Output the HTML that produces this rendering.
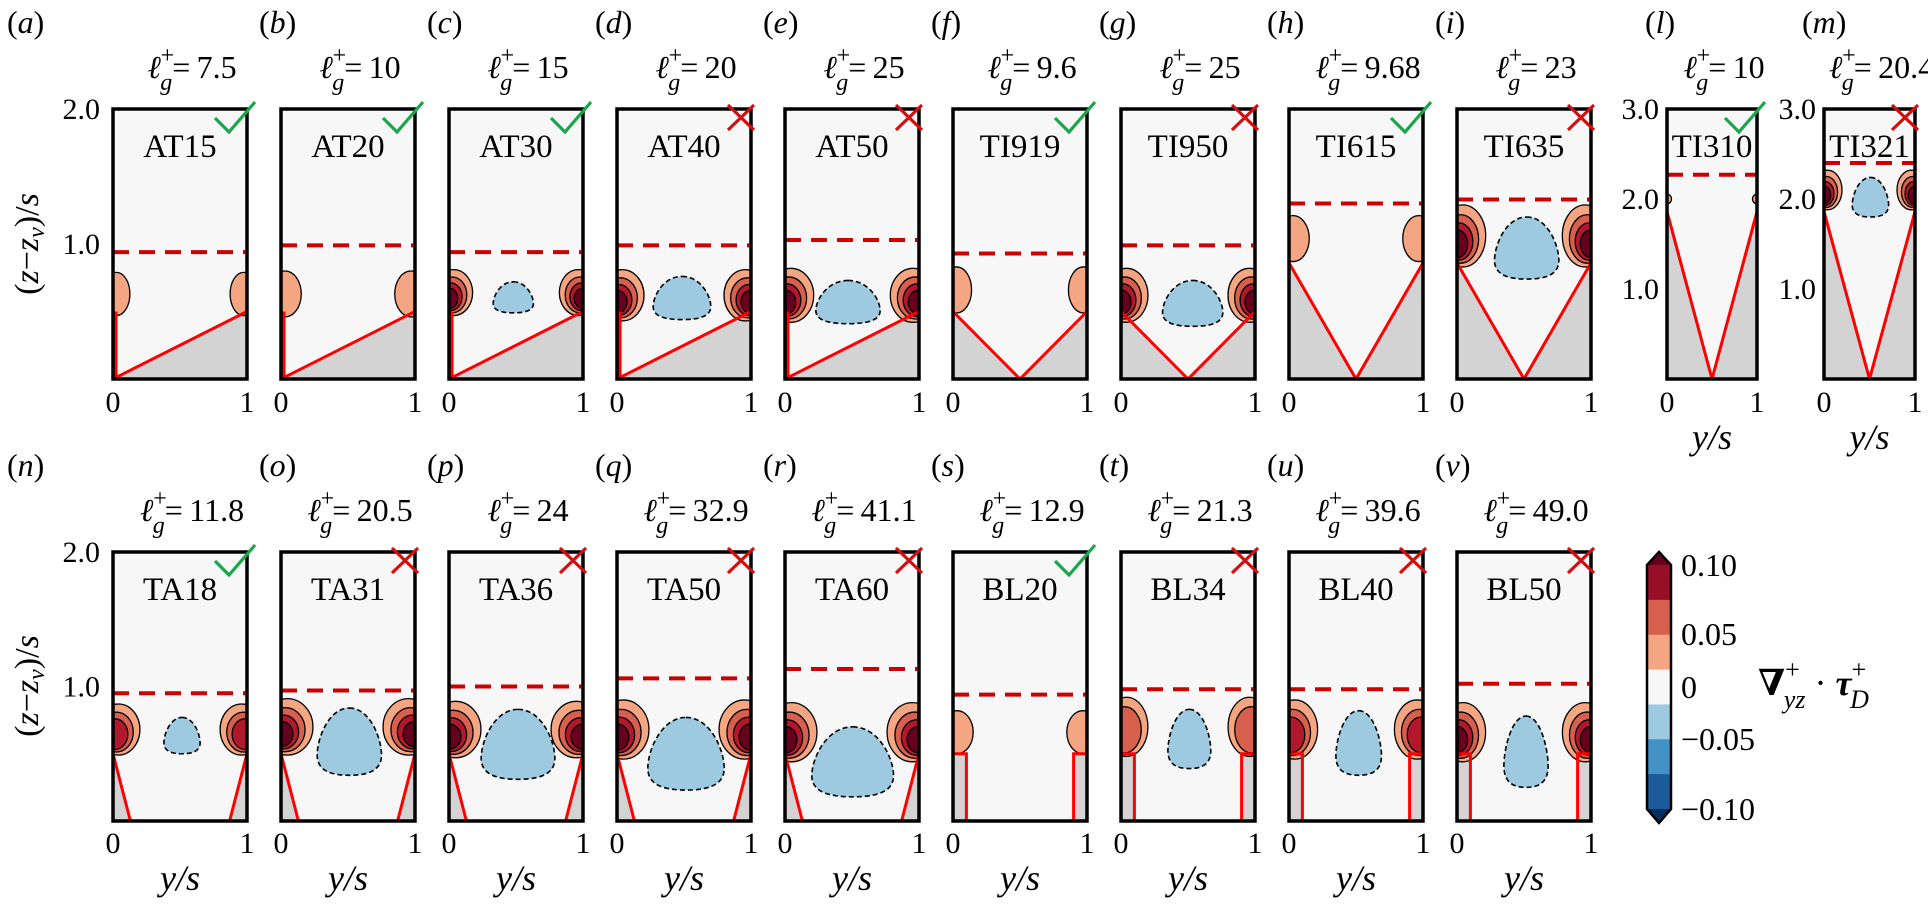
<!DOCTYPE html>
<html><head><meta charset="utf-8">
<style>
html,body{margin:0;padding:0;background:#fff;}
svg{display:block;font-family:"Liberation Serif","DejaVu Serif",serif;}
svg text{font-family:"Liberation Serif","DejaVu Serif",serif;}
</style></head>
<body>
<svg id="fig" width="1928" height="904" viewBox="0 0 1928 904" xmlns="http://www.w3.org/2000/svg" font-family="Liberation Serif, DejaVu Serif, serif">
<defs id="defs"></defs>
<g id="root"></g>
</svg>
<script>
// ---- data ----
const panelIds   = ['a','b','c','d','e','f','g','h','i','l','m','n','o','p','q','r','s','t','u','v'];
const caseNames  = ['AT15','AT20','AT30','AT40','AT50','TI919','TI950','TI615','TI635','TI310','TI321','TA18','TA31','TA36','TA50','TA60','BL20','BL34','BL40','BL50'];
const lgValues   = ['7.5','10','15','20','25','9.6','25','9.68','23','10','20.4','11.8','20.5','24','32.9','41.1','12.9','21.3','39.6','49.0'];
const verdicts   = [1,1,1,0,0,1,0,1,0,1,0,1,0,0,0,0,1,0,0,0];
const wallTypes  = ['AT','AT','AT','AT','AT','V9','V9','V6','V6','V3','V3','TA','TA','TA','TA','TA','BL','BL','BL','BL'];
const dashedZ    = [0.94,0.99,0.94,0.99,1.03,0.93,0.99,1.30,1.33,2.27,2.40,0.95,0.97,1.00,1.06,1.13,0.94,0.98,0.98,1.02];
const lobeZ      = [0.63,0.63,0.64,0.62,0.62,0.66,0.62,1.04,1.06,2.0,2.1,0.68,0.70,0.68,0.68,0.66,0.66,0.70,0.68,0.66];
const lobeRx     = [0.10,0.12,0.14,0.16,0.17,0.11,0.16,0.12,0.17,0.04,0.16,0.16,0.19,0.19,0.19,0.19,0.12,0.16,0.17,0.17];
const lobeRz     = [0.16,0.17,0.17,0.19,0.20,0.17,0.20,0.17,0.23,0.05,0.22,0.19,0.21,0.21,0.22,0.22,0.16,0.22,0.22,0.22];
const lobeLevels = [1,1,4,4,4,1,4,1,4,1,4,3,4,4,4,4,1,2,3,4];
const blobX0     = [null,null,0.33,0.27,0.23,null,0.31,null,0.28,null,0.31,0.38,0.27,0.24,0.23,0.20,null,0.35,0.35,0.35];
const blobX1     = [null,null,0.63,0.70,0.71,null,0.76,null,0.76,null,0.71,0.65,0.75,0.79,0.80,0.81,null,0.67,0.69,0.68];
const blobZ0     = [null,null,0.49,0.44,0.41,null,0.39,null,0.74,null,1.80,0.50,0.34,0.31,0.23,0.18,null,0.39,0.34,0.25];
const blobZ1     = [null,null,0.72,0.76,0.73,null,0.73,null,1.20,null,2.24,0.77,0.84,0.83,0.77,0.70,null,0.83,0.82,0.78];
const yTicksStd  = ['2.0','1.0'];
const yTicksTall = ['3.0','2.0','1.0'];
const cbTicks    = ['0.10','0.05','0','\u22120.05','\u22120.10'];
const cbColors   = ['#960f27','#d6604d','#f4a582','#f7f7f7','#9dcae1','#4292c6','#1c5a99'];

// ---- layout ----
const SVGNS='http://www.w3.org/2000/svg';
const FONT='Liberation Serif, DejaVu Serif, serif';
const root=document.getElementById('root');
const defs=document.getElementById('defs');
function mk(tag,attrs,parent){const e=document.createElementNS(SVGNS,tag);for(const k in attrs)e.setAttribute(k,attrs[k]);if(tag==='text')e.setAttribute('font-family',FONT);(parent||root).appendChild(e);return e;}

function panelGeom(i){
  if(i<9) return {x:113+168*i,w:134,top:109,bot:379,zmax:2,row:0};
  if(i===9) return {x:1667,w:90,top:109,bot:379,zmax:3,row:0};
  if(i===10) return {x:1824,w:91,top:109,bot:379,zmax:3,row:0};
  const k=i-11; return {x:113+168*k,w:134,top:552,bot:821,zmax:2,row:1};
}
const lobeColors=['#f4a582','#d6604d','#b2182b','#67001f','#5a0019'];
const lobeScale=[1,0.78,0.6,0.44,0.3];

panelIds.forEach((pid,i)=>{
  const G=panelGeom(i);
  const unit=(G.bot-G.top)/G.zmax;
  const sx=u=>G.x+u*G.w;
  const sz=z=>G.bot-z*unit;
  const g=mk('g',{});
  
  
  const cp=mk('clipPath',{id:'clip'+i},defs);
  mk('rect',{x:G.x,y:G.top,width:G.w,height:G.bot-G.top},cp);
  const inner=mk('g',{'clip-path':'url(#clip'+i+')'},g);
  const bg=mk('rect',{x:G.x,y:G.top,width:G.w,height:G.bot-G.top,fill:'#f7f7f7'},inner);
  
  
  const wt=wallTypes[i];
  let grayPts=[], redPaths=[];
  if(wt==='AT'){
    grayPts=[[0,0],[1,0.5],[1,0]];
    redPaths=['M'+(sx(0)+3)+','+sz(0.5)+' L'+(sx(0)+3)+','+sz(0),'M'+sx(0)+','+sz(0)+' L'+sx(1)+','+sz(0.5)];
  } else if(wt[0]==='V'){
    const h=wt==='V9'?0.5:(wt==='V6'?0.86:1.86);
    grayPts=[[0,h],[0.5,0],[1,h],[1,0],[0,0]];
    redPaths=['M'+sx(0)+','+sz(h)+' L'+sx(0.5)+','+sz(0)+' L'+sx(1)+','+sz(h)];
  } else if(wt==='TA'){
    mk('polygon',{points:[[0,0.5],[0.13,0],[0,0]].map(p=>sx(p[0])+','+sz(p[1])).join(' '),fill:'#d3d3d3'},inner);
    grayPts=[[1,0.5],[0.87,0],[1,0]];
    redPaths=['M'+sx(0)+','+sz(0.5)+' L'+sx(0.13)+','+sz(0),'M'+sx(1)+','+sz(0.5)+' L'+sx(0.87)+','+sz(0)];
  } else {
    mk('rect',{x:sx(0),y:sz(0.5),width:sx(0.1)-sx(0),height:sz(0)-sz(0.5),fill:'#d3d3d3'},inner);
    mk('rect',{x:sx(0.9),y:sz(0.5),width:sx(1)-sx(0.9),height:sz(0)-sz(0.5),fill:'#d3d3d3'},inner);
    redPaths=['M'+sx(0)+','+sz(0.5)+' L'+sx(0.1)+','+sz(0.5)+' L'+sx(0.1)+','+sz(0),'M'+sx(1)+','+sz(0.5)+' L'+sx(0.9)+','+sz(0.5)+' L'+sx(0.9)+','+sz(0)];
  }
  if(grayPts.length){
    const gp=mk('polygon',{points:grayPts.map(p=>sx(p[0])+','+sz(p[1])).join(' '),fill:'#d3d3d3'},inner);
    
    
  }
  [0,1].forEach(side=>{
    const wx=sx(side);
    const dir=side===0?1:-1;
    for(let k=0;k<lobeLevels[i];k++){
      const s=lobeScale[k];
      const rx=lobeRx[i]*unit*s, rz=lobeRz[i]*unit*s;
      const cz=sz(lobeZ[i])+ (1-s)*lobeRz[i]*unit*0.45;
      const cx=wx+dir*(lobeRx[i]*unit*0.25*s - (1-s)*lobeRx[i]*unit*0.15);
      const el=mk('ellipse',{cx:cx,cy:cz,rx:rx,ry:rz,fill:lobeColors[k],stroke:'#000','stroke-width':1.3},inner);
      
      
    }
  });
  if(blobX0[i]!==null){
    const X0=sx(blobX0[i]),X1=sx(blobX1[i]),Yt=sz(blobZ1[i]),Yb=sz(blobZ0[i]);
    const w=X1-X0,h=Yb-Yt,cx=(X0+X1)/2;
    const d='M'+cx+','+Yt+
      ' C'+(cx+0.32*w)+','+Yt+' '+X1+','+(Yt+0.45*h)+' '+X1+','+(Yt+0.7*h)+
      ' C'+X1+','+(Yb-0.05*h)+' '+(cx+0.25*w)+','+Yb+' '+cx+','+Yb+
      ' C'+(cx-0.25*w)+','+Yb+' '+X0+','+(Yb-0.05*h)+' '+X0+','+(Yt+0.7*h)+
      ' C'+X0+','+(Yt+0.45*h)+' '+(cx-0.32*w)+','+Yt+' '+cx+','+Yt+' Z';
    const bl=mk('path',{d:d,fill:'#9dcae1',stroke:'#000','stroke-width':1.6,'stroke-dasharray':'5 3'},inner);
    
    
  }
  redPaths.forEach(d=>{
    const rp=mk('path',{d:d,fill:'none',stroke:'#ff0000','stroke-width':3},inner);
    
    
  });
  const dl=mk('line',{x1:G.x,x2:G.x+G.w,y1:sz(dashedZ[i]),y2:sz(dashedZ[i]),stroke:'#cc0000','stroke-width':4,'stroke-dasharray':'16 10'},inner);
  
  
  const br=mk('rect',{x:G.x,y:G.top,width:G.w,height:G.bot-G.top,fill:'none',stroke:'#000','stroke-width':3.5},g);
  
  
  const cl=mk('text',{x:G.x+G.w/2,y:G.top+48,'text-anchor':'middle','font-size':33},g);
  cl.textContent=caseNames[i];
  
  
  const R=G.x+G.w, T=G.top;
  if(verdicts[i]){
    const ck=mk('path',{d:'M'+(R-32)+','+(T+9)+' L'+(R-18)+','+(T+23)+' L'+(R+8)+','+(T-7),fill:'none',stroke:'#1aa64a','stroke-width':3.2},g);
    
    
  } else {
    const cr=mk('path',{d:'M'+(R-23)+','+(T-4)+' L'+(R+3)+','+(T+21)+' M'+(R+3)+','+(T-4)+' L'+(R-23)+','+(T+21),fill:'none',stroke:'#d10f0f','stroke-width':3.2},g);
    
    
  }
  const lx=(i===0||i===11)?7:G.x-22;
  const rowOff=G.row?443:0;
  const pl=mk('text',{x:lx,y:33+rowOff,'font-size':32},g);
  pl.innerHTML='(<tspan font-style="italic">'+pid+'</tspan>)';
  
  
  const lt=mk('text',{x:G.x+G.w/2+12,y:78+rowOff,'text-anchor':'middle','font-size':32},g);
  lt.innerHTML='<tspan font-style="italic">\u2113</tspan><tspan font-size="24" dy="-15">+</tspan><tspan font-size="24" font-style="italic" dx="-14" dy="27">g</tspan><tspan dy="-12">=\u2009'+lgValues[i]+'</tspan>';
  
  
  const tickY=G.row?853:412;
  const t0=mk('text',{x:G.x,y:tickY,'text-anchor':'middle','font-size':30},g); t0.textContent='0';
  
  
  const t1=mk('text',{x:G.x+G.w,y:tickY,'text-anchor':'middle','font-size':30},g); t1.textContent='1';
  
  
  if(G.row===1||i===9||i===10){
    const xl=mk('text',{x:G.x+G.w/2,y:tickY+37,'text-anchor':'middle','font-size':36,'font-style':'italic'},g);
    xl.textContent='y/s';
    
    
  }
  const ticks=(i===9||i===10)?yTicksTall:((i===0||i===11)?yTicksStd:[]);
  ticks.forEach((lab,k)=>{
    const zv=parseFloat(lab);
    const yt=mk('text',{x:G.x-(i>=9&&i<=10?8:13),y:sz(zv)+10,'text-anchor':'end','font-size':30},g);
    yt.textContent=lab;
    
    
  });
});

[244,686].forEach(cy=>{
  const t=mk('text',{x:0,y:0,'text-anchor':'middle','font-size':34,transform:'translate(38,'+cy+') rotate(-90)'});
  t.innerHTML='(<tspan font-style="italic">z</tspan>\u2212<tspan font-style="italic">z</tspan><tspan font-style="italic" font-size="24" dy="6">v</tspan><tspan dy="-6">)/</tspan><tspan font-style="italic">s</tspan>';
  
  
});

const cbX=1647, cbW=24, cbTop=565, cbBot=809;
const cb=mk('g',{});


const bandH=(cbBot-cbTop)/cbColors.length;
cbColors.forEach((c,k)=>{
  const r=mk('rect',{x:cbX,y:cbTop+k*bandH,width:cbW,height:bandH+0.5,fill:c},cb);
  
  
});
mk('polygon',{points:cbX+','+cbTop+' '+(cbX+cbW/2)+',552 '+(cbX+cbW)+','+cbTop,fill:'#67001f'},cb);
mk('polygon',{points:cbX+','+cbBot+' '+(cbX+cbW/2)+',823 '+(cbX+cbW)+','+cbBot,fill:'#053061'},cb);
mk('path',{d:'M'+cbX+','+cbTop+' L'+(cbX+cbW/2)+',552 L'+(cbX+cbW)+','+cbTop+' L'+(cbX+cbW)+','+cbBot+' L'+(cbX+cbW/2)+',823 L'+cbX+','+cbBot+' Z',fill:'none',stroke:'#000','stroke-width':2.5},cb);
const cbTickY=[565,634,687,739,809];
cbTicks.forEach((lab,k)=>{
  const t=mk('text',{x:1681,y:cbTickY[k]+11,'font-size':32},cb);
  t.textContent=lab;
  
  
});
const cbt=mk('text',{x:1758,y:695,'font-size':36},cb);
cbt.innerHTML='<tspan font-weight="bold">\u2207</tspan><tspan font-size="26" dy="-17">+</tspan><tspan font-size="26" font-style="italic" dx="-16" dy="30">yz</tspan><tspan dy="-13"> \u00b7 </tspan><tspan font-weight="bold" font-style="italic">\u03c4</tspan><tspan font-size="26" dy="-17">+</tspan><tspan font-size="26" font-style="italic" dx="-16" dy="30">D</tspan>';


</script>
</body></html>
